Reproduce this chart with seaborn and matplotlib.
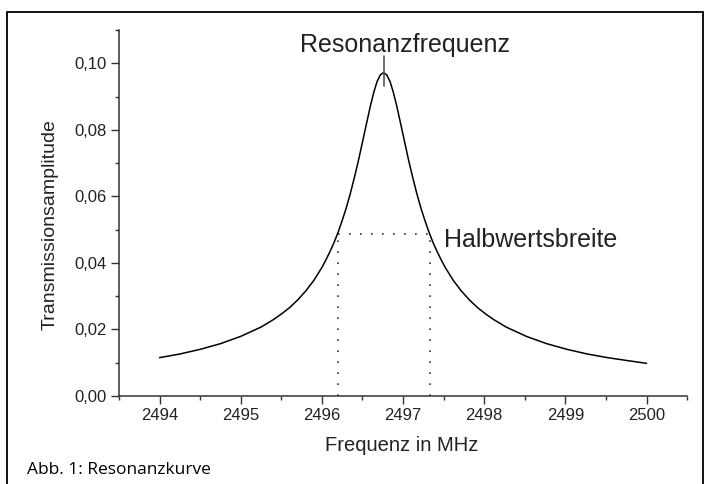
import matplotlib
matplotlib.use("Agg")
import matplotlib.pyplot as plt
import matplotlib.ticker as ticker
from matplotlib.patches import Rectangle
import pandas as pd
import seaborn as sns

# Werte (Frequenz in MHz, Transmissionsamplitude)
frequenz = [2494.0, 2494.25, 2494.5, 2494.75, 2495.0, 2495.25, 2495.4, 2495.5,
            2495.6, 2495.7, 2495.8, 2495.9, 2496.0, 2496.05, 2496.1, 2496.15,
            2496.2, 2496.25, 2496.3, 2496.35, 2496.4, 2496.45, 2496.5, 2496.55,
            2496.6, 2496.64, 2496.68, 2496.72, 2496.76, 2496.8, 2496.84, 2496.88,
            2496.92, 2496.97, 2497.02, 2497.07, 2497.12, 2497.17, 2497.22, 2497.27,
            2497.32, 2497.37, 2497.42, 2497.47, 2497.52, 2497.62, 2497.72, 2497.82,
            2497.92, 2498.02, 2498.12, 2498.27, 2498.52, 2498.77, 2499.02, 2499.27,
            2499.52, 2499.77, 2500.0]
amplitude = [0.0115, 0.0126, 0.0140, 0.0157, 0.0179, 0.0207, 0.0229, 0.0246,
             0.0265, 0.0288, 0.0315, 0.0347, 0.0386, 0.0409, 0.0434, 0.0461,
             0.0492, 0.0527, 0.0565, 0.0608, 0.0656, 0.0707, 0.0763, 0.0819,
             0.0874, 0.0913, 0.0945, 0.0965, 0.0972, 0.0965, 0.0945, 0.0913,
             0.0874, 0.0819, 0.0763, 0.0707, 0.0656, 0.0608, 0.0565, 0.0527,
             0.0492, 0.0461, 0.0434, 0.0409, 0.0386, 0.0347, 0.0315, 0.0288,
             0.0265, 0.0246, 0.0229, 0.0207, 0.0179, 0.0157, 0.0140, 0.0126,
             0.0115, 0.0106, 0.0098]

f_res = 2496.77
halbwert = 0.0486
f_links, f_rechts = 2496.20, 2497.33

df = pd.DataFrame({"Frequenz": frequenz, "Amplitude": amplitude})

sns.set_style("ticks")
plt.rcParams["font.family"] = ["Liberation Sans", "DejaVu Sans"]
text_col = "#222222"

fig = plt.figure(figsize=(7.04, 4.84), dpi=100)
ax = fig.add_axes([0.169, 0.182, 0.807, 0.756])

sns.lineplot(data=df, x="Frequenz", y="Amplitude", ax=ax, color="black", linewidth=1.1)

# Halbwertsbreite gepunktet
dots = (0, (1, 5.6))
ax.plot([f_links, f_rechts], [halbwert, halbwert], color="#333333", lw=1.2, linestyle=dots)
ax.plot([f_links, f_links], [0, halbwert], color="#333333", lw=1.2, linestyle=dots)
ax.plot([f_rechts, f_rechts], [0, halbwert], color="#333333", lw=1.2, linestyle=dots)

# Markierung der Resonanzfrequenz
ax.plot([f_res, f_res], [0.0932, 0.1021], color="#555555", lw=1.2)
ax.text(2497.03, 0.1034, "Resonanzfrequenz", ha="center", va="baseline",
        fontsize=18, color=text_col)
ax.text(2497.50, 0.0448, "Halbwertsbreite", ha="left", va="baseline",
        fontsize=18, color=text_col)

ax.set_xlim(2493.5, 2500.5)
ax.set_ylim(0, 0.110)
ax.xaxis.set_major_locator(ticker.MultipleLocator(1))
ax.xaxis.set_minor_locator(ticker.MultipleLocator(0.5))
ax.yaxis.set_major_locator(ticker.MultipleLocator(0.02))
ax.yaxis.set_minor_locator(ticker.MultipleLocator(0.01))
ax.xaxis.set_major_formatter(ticker.FuncFormatter(lambda v, p: f"{v:.0f}"))
ax.yaxis.set_major_formatter(ticker.FuncFormatter(lambda v, p: f"{v:.2f}".replace(".", ",")))

ax.tick_params(which="major", length=5.5, width=1.0, color="#333333",
               labelsize=12, labelcolor=text_col, pad=3.5)
ax.tick_params(which="minor", length=3.1, width=1.0, color="#333333")

for s in ["top", "right"]:
    ax.spines[s].set_visible(False)
for s in ["left", "bottom"]:
    ax.spines[s].set_color("#333333")
    ax.spines[s].set_linewidth(1.1)

ax.set_xlabel("Frequenz in MHz", fontsize=14.5, color=text_col)
ax.set_ylabel("Transmissionsamplitude", fontsize=14, color=text_col)
ax.xaxis.set_label_coords(0.498, -0.109)
ax.yaxis.set_label_coords(-0.107, 0.467)

fig.text(27 / 704, 1 - 474.3 / 484, "Abb. 1: Resonanzkurve", ha="left", va="baseline",
         fontsize=12.5, color="black", family=["Open Sans", "DejaVu Sans"])

rahmen = Rectangle((7.5 / 704, -0.05), (702.5 - 7.5) / 704, 1 - 11.7 / 484 + 0.05,
                   transform=fig.transFigure, fill=False, edgecolor="black",
                   linewidth=1.3, clip_on=False)
fig.add_artist(rahmen)

fig.savefig("out.png", dpi=100)
